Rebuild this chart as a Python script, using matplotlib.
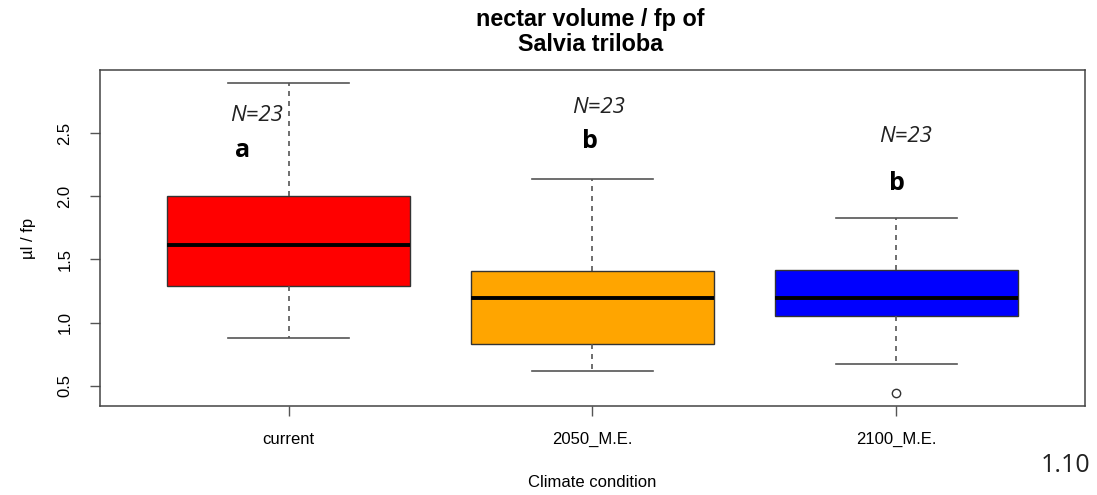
import numpy as np
import matplotlib
matplotlib.use("Agg")
import matplotlib.pyplot as plt

# box statistics
groups = ["current", "2050_M.E.", "2100_M.E."]
whislo = [0.88, 0.62, 0.675]
q1 = [1.29, 0.835, 1.055]
med = [1.615, 1.197, 1.197]
q3 = [2.005, 1.41, 1.418]
whishi = [2.895, 2.135, 1.828]
fliers = [[], [], [0.445]]
colors = ["#FF0000", "#FFA500", "#0000FF"]

# annotations above each box
n_labels = ["N=23", "N=23", "N=23"]
n_x = [0.895, 2.02, 3.03]
n_y = [2.64, 2.705, 2.47]
letters = ["a", "b", "b"]
let_x = [0.85, 1.99, 3.0]
let_y = [2.36, 2.43, 2.10]

plt.rcParams['font.family'] = ['Liberation Sans', 'DejaVu Sans']

fig = plt.figure(figsize=(10.97, 4.95), dpi=100)
ax = fig.add_axes([0.0912, 0.18, 0.8978, 0.6786])

stats = []
for i in range(len(groups)):
    stats.append(dict(label=groups[i], whislo=whislo[i], q1=q1[i], med=med[i],
                      q3=q3[i], whishi=whishi[i], fliers=fliers[i]))

bp = ax.bxp(stats, positions=[1, 2, 3], widths=0.8, patch_artist=True,
            showfliers=True,
            boxprops=dict(edgecolor="#333333", linewidth=1),
            medianprops=dict(color="black", linewidth=2.8),
            whiskerprops=dict(color="#555555", linestyle=(0, (3, 3)), linewidth=1.2),
            capprops=dict(color="#555555", linewidth=1.2),
            flierprops=dict(marker="o", markerfacecolor="none",
                            markeredgecolor="#333333", markersize=6))
for patch, c in zip(bp['boxes'], colors):
    patch.set_facecolor(c)
for cap in bp['caps']:
    xs = cap.get_xdata()
    m = (xs[0] + xs[1]) / 2
    cap.set_xdata([m - 0.2, m + 0.2])

for i in range(3):
    ax.text(n_x[i], n_y[i], n_labels[i], ha="center", va="center",
            fontsize=16, style="italic", family="Open Sans", color="#222222")
    ax.text(let_x[i], let_y[i], letters[i], ha="center", va="center",
            fontsize=18, weight="bold", family="Open Sans", color="black")

ax.set_xlim(0.38, 3.62)
ax.set_ylim(0.3416, 2.9984)
ax.set_yticks([0.5, 1.0, 1.5, 2.0, 2.5])
ax.set_yticklabels(["0.5", "1.0", "1.5", "2.0", "2.5"], rotation=90, va="center")
ax.set_xticks([1, 2, 3])
ax.set_xticklabels(groups)
ax.tick_params(axis="both", direction="out", length=7, width=1, color="#555555",
               labelsize=12)
ax.tick_params(axis="x", pad=12)
ax.tick_params(axis="y", pad=13)
for s in ax.spines.values():
    s.set_color("#444444")
    s.set_linewidth(1.1)

ax.set_ylabel("µl / fp", fontsize=12, labelpad=15)
ax.set_xlabel("Climate condition", fontsize=12, labelpad=20)
fig.text(0.538, 0.936, "nectar volume / fp of\nSalvia triloba", ha="center", va="center",
         fontsize=16.8, weight="bold", linespacing=1.12)
fig.text(0.971, 0.06, "1.10", ha="center", va="center", fontsize=18,
         family="Open Sans", color="#222222")

fig.savefig("out.png", dpi=100)
